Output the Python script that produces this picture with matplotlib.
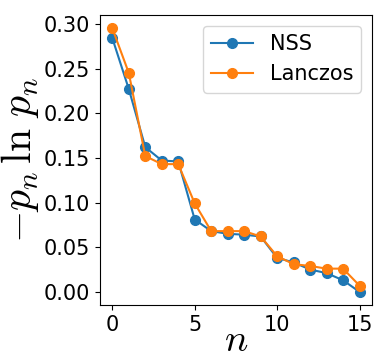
import matplotlib
matplotlib.use("Agg")
import matplotlib.pyplot as plt
import numpy as np

plt.rcParams['mathtext.fontset'] = 'cm'

n = np.arange(16)
nss = [0.284, 0.227, 0.162, 0.147, 0.146, 0.081, 0.068, 0.065, 0.064, 0.062,
       0.038, 0.033, 0.025, 0.021, 0.013, 0.000]
lanczos = [0.295, 0.245, 0.152, 0.143, 0.143, 0.099, 0.068, 0.068, 0.068, 0.062,
           0.040, 0.031, 0.029, 0.026, 0.026, 0.007]

fig = plt.figure(figsize=(3.89, 3.61), dpi=100)
ax = fig.add_axes([0.257, 0.155, 0.699, 0.803])
ax.plot(n, nss, 'o-', color='#1f77b4', markersize=7, label='NSS')
ax.plot(n, lanczos, 'o-', color='#ff7f0e', markersize=7, label='Lanczos')
ax.set_xticks([0, 5, 10, 15])
ax.set_yticks([0.0, 0.05, 0.10, 0.15, 0.20, 0.25, 0.30])
ax.tick_params(labelsize=15)
ax.set_xlabel(r'$n$', fontsize=28, labelpad=-10)
ax.set_ylabel(r'$-p_n\,\ln\,p_n$', fontsize=30, labelpad=2)
ax.legend(fontsize=15, loc='upper right')
fig.savefig('out.png', dpi=100)
